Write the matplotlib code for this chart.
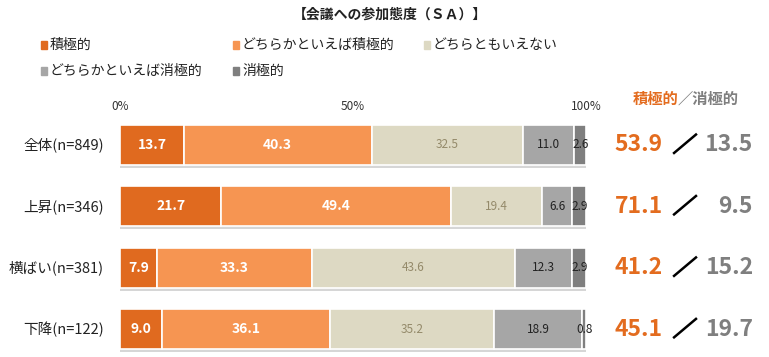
import matplotlib
matplotlib.use("Agg")
import matplotlib.pyplot as plt
import numpy as np

plt.rcParams['font.family'] = ['Noto Sans CJK JP', 'DejaVu Sans']

title = "【会議への参加態度（ＳＡ）】"
categories = ["全体(n=849)", "上昇(n=346)", "横ばい(n=381)", "下降(n=122)"]
series_names = ["積極的", "どちらかといえば積極的", "どちらともいえない", "どちらかといえば消極的", "消極的"]
values = {
    "積極的": [13.7, 21.7, 7.9, 9.0],
    "どちらかといえば積極的": [40.3, 49.4, 33.3, 36.1],
    "どちらともいえない": [32.5, 19.4, 43.6, 35.2],
    "どちらかといえば消極的": [11.0, 6.6, 12.3, 18.9],
    "消極的": [2.6, 2.9, 2.9, 0.8],
}
positive_totals = [53.9, 71.1, 41.2, 45.1]
negative_totals = [13.5, 9.5, 15.2, 19.7]
xticks = [0, 50, 100]
xtick_labels = ["0%", "50%", "100%"]

colors = ["#E06A1F", "#F69552", "#DDD9C3", "#A6A6A6", "#7F7F7F"]
label_colors = ["white", "white", "#948A6A", "#222222", "#222222"]
label_weights = ["bold", "bold", "normal", "normal", "normal"]
label_sizes = [10, 10, 8.5, 8.5, 8.5]

W, H = 769, 357
fig = plt.figure(figsize=(W / 100, H / 100), dpi=100)
ax = fig.add_axes([120 / W, 0, (586 - 120) / W, (357 - 114.25) / H])

y = np.arange(len(categories))
bh = 0.65

# shadow
ax.barh(y + 0.05, [100] * len(categories), height=bh, left=0, color="#D6D6D6", zorder=1)

left = np.zeros(len(categories))
for i, name in enumerate(series_names):
    v = np.array(values[name])
    ax.barh(y, v, height=bh, left=left, color=colors[i], edgecolor="white", linewidth=1.2, zorder=2)
    for j, val in enumerate(v):
        cx = left[j] + val / 2
        ax.text(cx, y[j], f"{val:.1f}", ha="center", va="center", color=label_colors[i],
                fontsize=label_sizes[i], fontweight=label_weights[i], zorder=3)
    left += v

ax.set_xlim(0, 100)
ax.set_ylim(len(categories) - 1 + 0.45, -0.5)
ax.axis("off")

# x tick labels on top
for t, lab in zip(xticks, xtick_labels):
    ax.text(t, -0.5 - 0.13, lab, ha="center", va="center", fontsize=8.5, color="#333333",
            transform=ax.transData, clip_on=False)

# category labels
for j, c in enumerate(categories):
    ax.text(-3.5, y[j], c, ha="right", va="center", fontsize=10.5, color="#222222", clip_on=False)

# totals on the right
for j in range(len(categories)):
    yy = y[j]
    ax.text(116.5, yy, f"{positive_totals[j]:.1f}", ha="right", va="center", fontsize=16.5,
            fontweight="bold", color="#E36C1F", clip_on=False)
    ax.plot([118.9, 123.6], [yy + 0.13, yy - 0.17], color="black", lw=1.8, clip_on=False)
    ax.text(135.8, yy, f"{negative_totals[j]:.1f}", ha="right", va="center", fontsize=16.5,
            fontweight="bold", color="#7F7F7F", clip_on=False)

# header on right
fig.text(633 / W, 1 - 99 / H, "積極的", ha="left", va="center", fontsize=11, fontweight="bold", color="#E36C1F")
fig.text(739 / W, 1 - 99 / H, "／消極的", ha="right", va="center", fontsize=11, fontweight="bold", color="#7F7F7F")

# title
fig.text(390 / W, 1 - 15 / H, title, ha="center", va="center", fontsize=10, fontweight="bold", color="#222222")

# legend
leg_pos = [(44, 45), (236, 45), (427, 45), (44, 71), (236, 71)]
for i, name in enumerate(series_names):
    px, py = leg_pos[i]
    fig.patches.append(plt.Rectangle((px / W - 3 / W, 1 - (py + 4) / H), 6 / W, 8 / H,
                                     transform=fig.transFigure, color=colors[i]))
    fig.text((px + 6) / W, 1 - py / H, name, ha="left", va="center", fontsize=10, color="#222222")

fig.savefig("out.png", dpi=100)
